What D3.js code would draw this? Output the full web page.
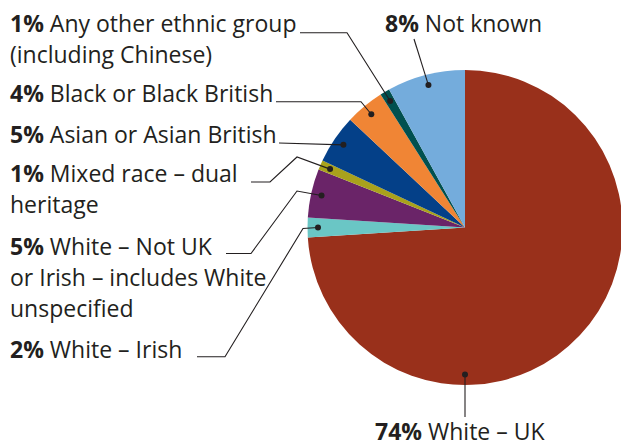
<!DOCTYPE html>
<html>
<head>
<meta charset="utf-8">
<script src="https://cdn.jsdelivr.net/npm/d3@7"></script>
<style>
  body { margin: 0; background: #fff; }
  text { font-family: "Open Sans", sans-serif; fill: #231f20; }
</style>
</head>
<body>
<script>
// pie slices, clockwise from 12 o'clock
const groups = ['White – UK', 'White – Irish', 'White – Not UK or Irish – includes White unspecified',
                'Mixed race – dual heritage', 'Asian or Asian British', 'Black or Black British',
                'Any other ethnic group (including Chinese)', 'Not known'];
const percents = [74, 2, 5, 1, 5, 4, 1, 8];
const colours = ['#99301b', '#6ac6c5', '#6a2468', '#a9a21c', '#044088', '#f08535', '#01504f', '#74acdc'];

// label text lines (first line starts with the bold percentage)
const labelLines = [
  ['White – UK'],
  ['White – Irish'],
  ['White – Not UK', 'or Irish – includes White', 'unspecified'],
  ['Mixed race – dual', 'heritage'],
  ['Asian or Asian British'],
  ['Black or Black British'],
  ['Any other ethnic group', '(including Chinese)'],
  ['Not known']
];

const width = 621, height = 446;
const cx = 465, cy = 227.5, radius = 157.5;
const dotR = 147;
const lineGap = 31;

// label layout: text anchor + leader points (dot is added from the arc)
const layout = [
  {x: 375, y: 440, leader: [[465, 417]], dotAngle: Math.PI},
  {x: 10, y: 358, leader: [[197, 356.7], [225, 356.7], [303, 228.5]]},
  {x: 10, y: 255, leader: [[226, 253.5], [251, 253.5], [297, 191]]},
  {x: 10, y: 182, leader: [[251, 182], [270, 182], [297, 157]]},
  {x: 10, y: 143, leader: [[279, 143]]},
  {x: 10, y: 102, leader: [[276, 101.7], [361, 101.7]]},
  {x: 10, y: 32, leader: [[300, 32.7], [347, 32.7]]},
  {x: 385, y: 32, leader: [[414, 39]]}
];

const data = groups.map((g, i) => ({group: g, value: percents[i], colour: colours[i], lines: labelLines[i], lay: layout[i]}));

const svg = d3.select('body').append('svg')
              .attr('width', width)
              .attr('height', height);

const pie = d3.pie().value(d => d.value).sort(null);
const arc = d3.arc().innerRadius(0).outerRadius(radius);
const arcs = pie(data);

const g = svg.append('g').attr('transform', `translate(${cx},${cy})`);
g.selectAll('path.slice')
 .data(arcs)
 .enter()
 .append('path')
 .attr('class', 'slice')
 .attr('d', arc)
 .attr('fill', d => d.data.colour);

function dotPos(d){
  const a = d.data.lay.dotAngle !== undefined ? d.data.lay.dotAngle : (d.startAngle + d.endAngle) / 2;
  return [cx + dotR * Math.sin(a), cy - dotR * Math.cos(a)];
}

const line = d3.line();
svg.selectAll('path.leader')
   .data(arcs)
   .enter()
   .append('path')
   .attr('class', 'leader')
   .attr('d', d => line(d.data.lay.leader.concat([dotPos(d)])))
   .attr('fill', 'none')
   .attr('stroke', '#231f20')
   .attr('stroke-width', 1.1);

svg.selectAll('circle.dot')
   .data(arcs)
   .enter()
   .append('circle')
   .attr('class', 'dot')
   .attr('cx', d => dotPos(d)[0])
   .attr('cy', d => dotPos(d)[1])
   .attr('r', 3)
   .attr('fill', '#231f20');

const labels = svg.selectAll('text.label')
                  .data(arcs)
                  .enter()
                  .append('text')
                  .attr('class', 'label')
                  .attr('font-size', 23);

labels.each(function(d){
  const t = d3.select(this);
  d.data.lines.forEach((ln, i) => {
    const ts = t.append('tspan')
                .attr('x', d.data.lay.x)
                .attr('y', d.data.lay.y + i * lineGap);
    if(i === 0){
      ts.append('tspan').attr('font-weight', 'bold').text(d.data.value + '%');
      ts.append('tspan').text(' ' + ln);
    }else{
      ts.text(ln);
    }
  });
});
</script>
</body>
</html>
